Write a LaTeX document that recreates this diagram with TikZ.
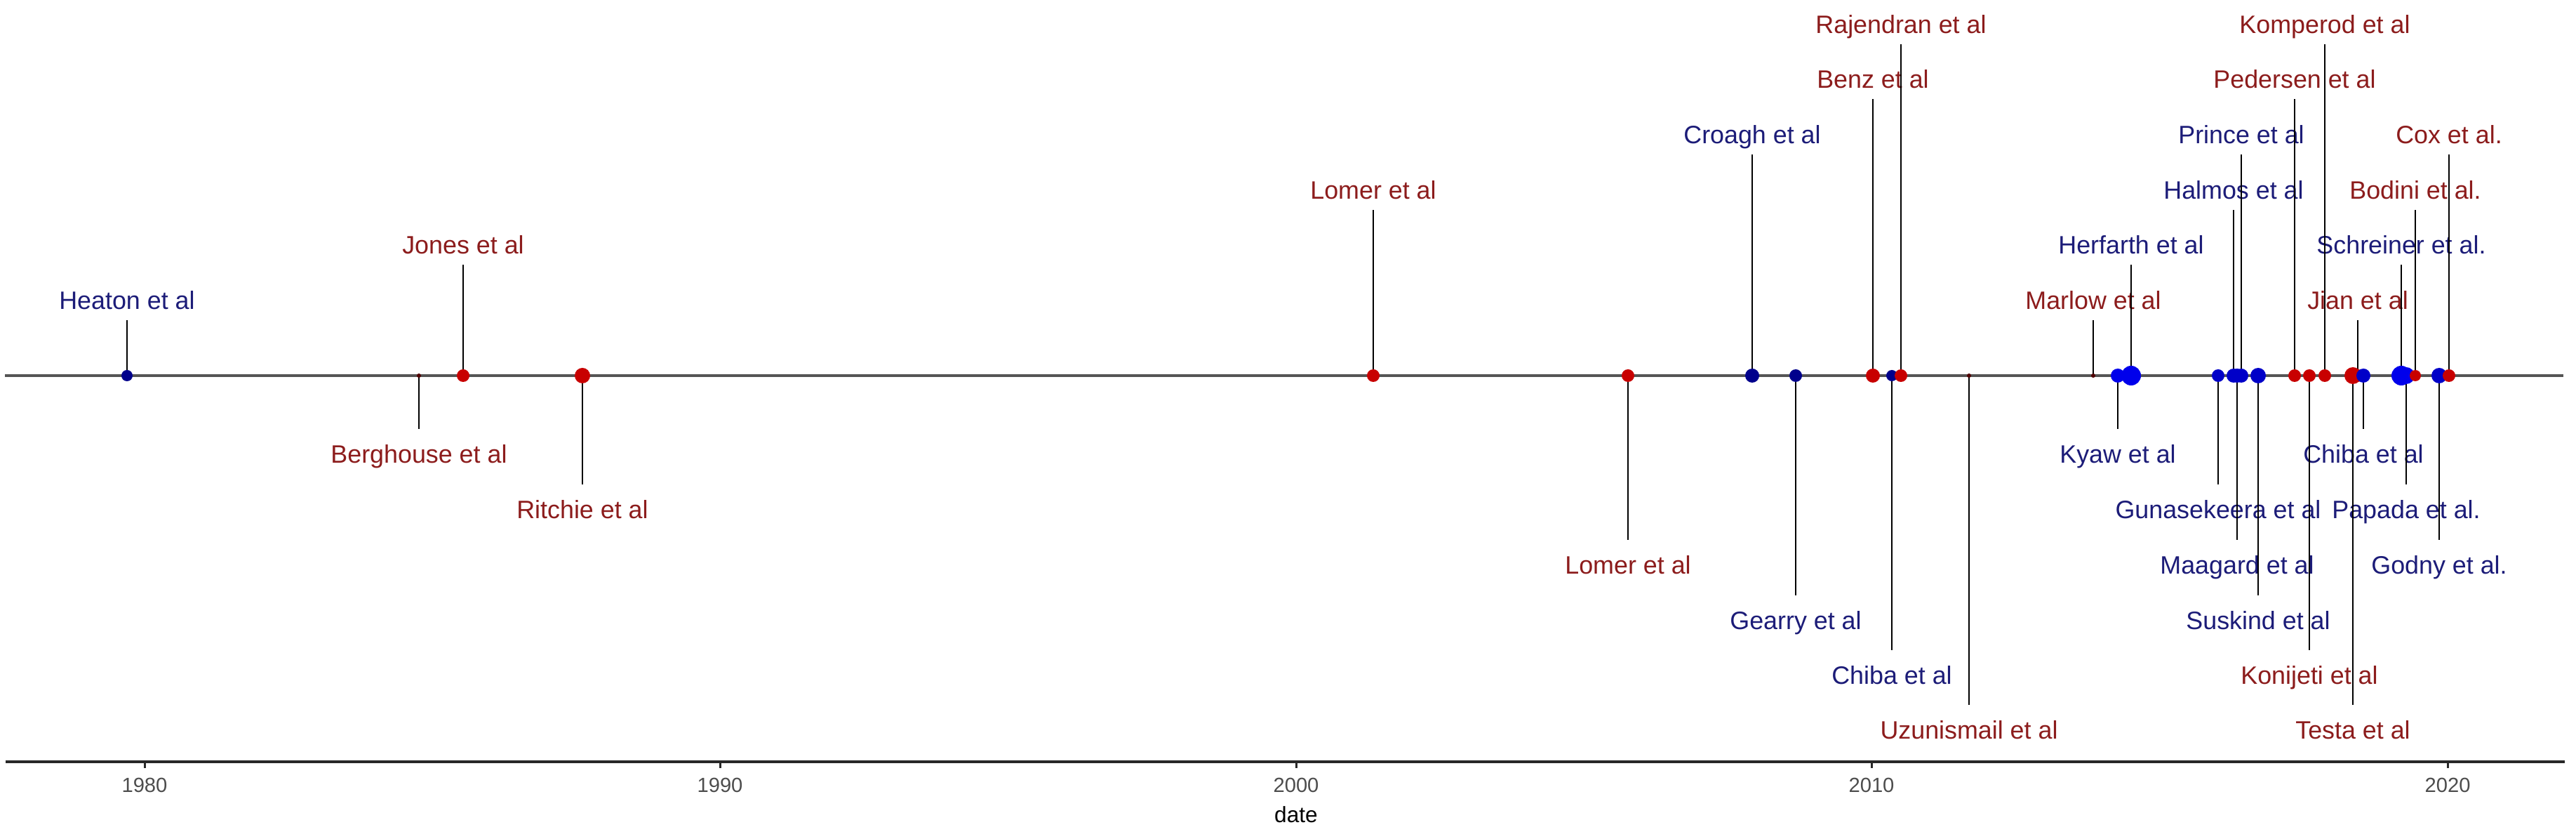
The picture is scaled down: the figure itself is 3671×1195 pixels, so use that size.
\documentclass[tikz,border=0pt]{standalone}
\usepackage{fontspec}
\setmainfont{Liberation Sans}
\definecolor{tr}{RGB}{140,28,28}
\definecolor{tb}{RGB}{28,28,120}
\definecolor{dred}{RGB}{200,0,0}
\definecolor{dnavy}{RGB}{0,0,140}
\definecolor{dmid}{RGB}{0,0,200}
\definecolor{dblue}{RGB}{0,0,235}
\definecolor{dtiny}{RGB}{80,0,0}
\definecolor{axgray}{RGB}{77,77,77}
\pgfdeclarelayer{bgfill}\pgfdeclarelayer{bg}\pgfdeclarelayer{fg}\pgfsetlayers{bgfill,bg,main,fg}
\tikzset{
  lbl/.style={inner sep=0pt,anchor=center,text height=7.3pt,text depth=0pt,font=\fontsize{10.2pt}{12pt}\selectfont},
  dotn/.style={circle,inner sep=0pt,draw=none},
  stem/.style={draw=black,line width=0.25mm},
  mainline/.style={draw={rgb,255:red,85;green,85;blue,85},line width=0.42mm},
  axisline/.style={draw={rgb,255:red,40;green,40;blue,40},line width=0.4mm},
  tickmark/.style={draw={rgb,255:red,40;green,40;blue,40},line width=0.3mm},
  ticklbl/.style={inner sep=0pt,anchor=center,text height=6pt,text depth=0pt,text=axgray,font=\fontsize{8.3pt}{10pt}\selectfont},
  axtitle/.style={inner sep=0pt,anchor=center,text height=6.4pt,text depth=0pt,font=\fontsize{9pt}{11pt}\selectfont}
}
\newcommand\tev[8]{%
  \begin{pgfonlayer}{bg}\node[lbl,text=#5] (l#1) at (#2,#3) {#8};\end{pgfonlayer}
  \begin{pgfonlayer}{fg}\node[dotn,fill=#6,minimum size=#7*0.2mm] (d#1) at (#2,535) {};\end{pgfonlayer}
  \coordinate (s#1) at (#2,#4);
  \draw[stem] (d#1.center) -- (s#1);
}
\begin{document}
\begin{tikzpicture}[x=0.1mm,y=-0.1mm]
\begin{pgfonlayer}{bgfill}\fill[white] (0,0) rectangle (3671,1195);\end{pgfonlayer}
\useasboundingbox (0,0) rectangle (3671,1195);
\coordinate (mlA) at (7,535);
\coordinate (mlB) at (3653,535);
\begin{pgfonlayer}{bg}\draw[mainline] (mlA) -- (mlB);\end{pgfonlayer}
% axis
\coordinate (axA) at (8,1085);
\coordinate (axB) at (3655,1085);
\draw[axisline] (axA) -- (axB);
\foreach \yr/\xx in {1980/206,1990/1026,2000/1847,2010/2667,2020/3488}{
  \coordinate (t\yr) at (\xx,1085);
  \coordinate (tb\yr) at (\xx,1094);
  \draw[tickmark] (t\yr) -- (tb\yr);
  \node[ticklbl] (tl\yr) at (\xx,1118) {\yr};
}
\node[axtitle] (xtitle) at (1847,1160) {date};
% events
\tev{heaton}{181}{428}{456}{tb}{dnavy}{8}{Heaton et al}
\tev{berg}{597}{647}{611}{tr}{dtiny}{3}{Berghouse et al}
\tev{jones}{660}{349}{377}{tr}{dred}{9}{Jones et al}
\tev{ritchie}{830}{726}{690}{tr}{dred}{11}{Ritchie et al}
\tev{lomerA}{1957}{271}{299}{tr}{dred}{9}{Lomer et al}
\tev{lomerB}{2320}{805}{769}{tr}{dred}{9}{Lomer et al}
\tev{croagh}{2497}{192}{220}{tb}{dnavy}{10}{Croagh et al}
\tev{gearry}{2559}{884}{848}{tb}{dnavy}{9}{Gearry et al}
\tev{benz}{2669}{113}{141}{tr}{dred}{10}{Benz et al}
\tev{chibaA}{2696}{962}{926}{tb}{dnavy}{8}{Chiba et al}
\tev{raj}{2709}{35}{63}{tr}{dred}{9}{Rajendran et al}
\tev{uzun}{2806}{1040}{1004}{tr}{dtiny}{3}{Uzunismail et al}
\tev{marlow}{2983}{428}{456}{tr}{dtiny}{3}{Marlow et al}
\tev{kyaw}{3018}{647}{611}{tb}{dblue}{10}{Kyaw et al}
\tev{herf}{3037}{349}{377}{tb}{dblue}{14}{Herfarth et al}
\tev{guna}{3161}{726}{690}{tb}{dmid}{9}{Gunasekeera et al}
\tev{halmos}{3183}{271}{299}{tb}{dmid}{10}{Halmos et al}
\tev{maagard}{3188}{805}{769}{tb}{dmid}{10}{Maagard et al}
\tev{prince}{3194}{192}{220}{tb}{dmid}{10}{Prince et al}
\tev{suskind}{3218}{884}{848}{tb}{dmid}{11}{Suskind et al}
\tev{pedersen}{3270}{113}{141}{tr}{dred}{9}{Pedersen et al}
\tev{konijeti}{3291}{962}{926}{tr}{dred}{9}{Konijeti et al}
\tev{komperod}{3313}{35}{63}{tr}{dred}{9}{Komperod et al}
\tev{testa}{3353}{1040}{1004}{tr}{dred}{12}{Testa et al}
\tev{jian}{3360}{428}{456}{tr}{dred}{9}{Jian et al}
\tev{chibaB}{3368}{647}{611}{tb}{dmid}{10}{Chiba et al}
\tev{schreiner}{3422}{349}{377}{tb}{dblue}{14}{Schreiner et al.}
\tev{papada}{3429}{726}{690}{tb}{dblue}{12}{Papada et al.}
\tev{bodini}{3442}{271}{299}{tr}{dred}{8}{Bodini et al.}
\tev{godny}{3476}{805}{769}{tb}{dmid}{11}{Godny et al.}
\tev{cox}{3490}{192}{220}{tr}{dred}{9}{Cox et al.}
\end{tikzpicture}
\end{document}
